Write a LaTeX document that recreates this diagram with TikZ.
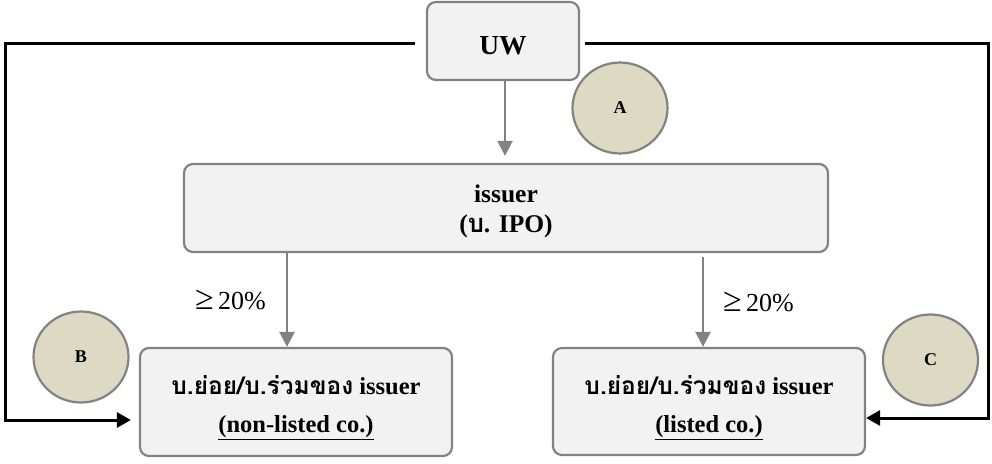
\documentclass[tikz,border=0pt]{standalone}
\usepackage{fontspec}
\setmainfont{Liberation Serif}
\newfontfamily\thaifont[Script=Thai]{Loma}
\usetikzlibrary{arrows.meta,calc,shapes.geometric}
\definecolor{boxfill}{HTML}{F2F2F2}
\definecolor{boxline}{HTML}{828282}
\definecolor{badgefill}{HTML}{DDD9C3}
% lower a text block inside its node without changing the node's size
\newcommand{\lowered}[2]{\raisebox{#1}[\height][\depth]{#2}}
\newcommand{\twolines}[3]{\lowered{#1}{\parbox{300pt}{\centering #2\\#3}}}
\begin{document}
\begin{tikzpicture}[x=1pt,y=-1pt,
  box/.style={draw=boxline, line width=2.2pt, fill=boxfill, rounded corners=9pt,
    inner sep=0pt, align=center},
  badge/.style={ellipse, draw=boxline, line width=2.2pt, fill=badgefill, inner sep=0pt,
    minimum width=95pt, minimum height=91pt, font=\bfseries\fontsize{18}{20}\selectfont},
  feed/.style={draw=boxline, line width=2.4pt, -{Triangle[length=15pt,width=15pt]}},
  link/.style={draw=black, line width=3pt, -{Triangle[length=14pt,width=15pt]}},
  share/.style={font=\fontsize{26}{28}\selectfont, inner sep=0pt},
]
\useasboundingbox (0,0) rectangle (992,463);

% boxes
\node[box, minimum width=152pt, minimum height=78pt, font=\bfseries\fontsize{27.5}{30}\selectfont]
  (uw) at (503,41) {\lowered{-5pt}{UW}};
\node[box, minimum width=644pt, minimum height=88pt, font=\bfseries\fontsize{25.5}{30}\selectfont]
  (issuer) at (506,208) {\twolines{-3pt}{issuer}{({\thaifont บ}. IPO)}};
\node[box, minimum width=312pt, minimum height=108pt, font=\bfseries\fontsize{24.5}{38}\selectfont]
  (lb) at (296,402) {\twolines{-6pt}{{\thaifont บ.ย่อย/บ.ร่วมของ} issuer}{\underline{(non-listed co.)}}};
\node[box, minimum width=312pt, minimum height=107pt, font=\bfseries\fontsize{24.5}{38}\selectfont]
  (rb) at (709,401.5) {\twolines{-6pt}{{\thaifont บ.ย่อย/บ.ร่วมของ} issuer}{\underline{(listed co.)}}};

% badges
\node[badge] (a) at (620,108) {A};
\node[badge] (b) at (81,357) {B};
\node[badge] (c) at (930.5,360) {C};

% shareholding arrows
\coordinate (colA) at (505,0);
\coordinate (colL) at (287,0);
\coordinate (colR) at (703,0);
\draw[feed, shorten >=7pt] (uw.south -| colA) -- (issuer.north -| colA);
\draw[feed] (issuer.south -| colL) -- (lb.north -| colL)
  node[share, midway, left=20pt] {{\fontsize{34}{34}\selectfont ≥}\,20\%};
\draw[feed] ([yshift=-4pt]issuer.south -| colR) -- (rb.north -| colR)
  node[share, midway, right=19pt] {{\fontsize{34}{34}\selectfont ≥}\,20\%};

% underwriter links
\coordinate (ls) at (415,43);
\coordinate (lc) at (5,43);
\coordinate (rs) at (585,43);
\coordinate (rc) at (988,43);
\draw[link, shorten >=8pt] (ls) -- (lc) |- ([yshift=-18pt]lb.west);
\draw[link] (rs) -- (rc) |- ([yshift=-16.5pt]rb.east);
\end{tikzpicture}
\end{document}
